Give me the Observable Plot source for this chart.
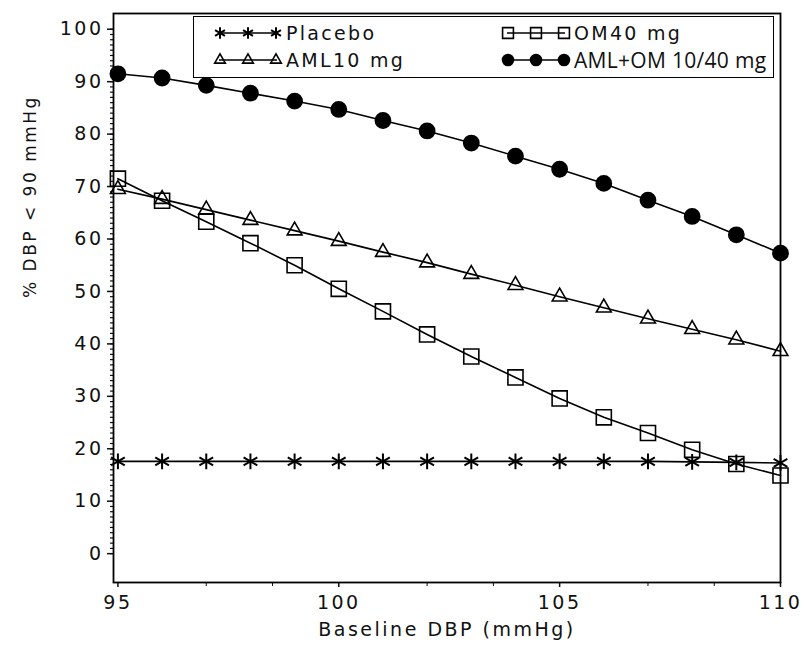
<!DOCTYPE html>
<html><head><meta charset="utf-8">
<script src="https://cdn.jsdelivr.net/npm/d3@7"></script>
<script src="https://cdn.jsdelivr.net/npm/@observablehq/plot@0.6"></script>
<style>
body{margin:0;background:#fff;}
#wrap{position:relative;width:804px;height:647px;}
#legend{position:absolute;left:193px;top:16px;width:581px;height:62px;border:1.5px solid #000;box-sizing:border-box;background:#fff;font-family:"DejaVu Sans",sans-serif;font-size:19px;letter-spacing:2.3px;color:#111;}
.item{position:absolute;display:flex;align-items:center;height:26px;white-space:nowrap;}
.item svg{display:block;margin-right:2px;}
</style></head><body><div id="wrap"><div id="legend"></div></div>
<script>
// ---- data ----
const baseline = [95,96,97,98,99,100,101,102,103,104,105,106,107,108,109,110];
const placebo = [17.6,17.6,17.6,17.6,17.6,17.6,17.6,17.6,17.6,17.6,17.6,17.6,17.6,17.5,17.4,17.3];
const om40    = [71.5,67.3,63.3,59.2,55.0,50.5,46.2,41.8,37.6,33.6,29.6,26.0,23.0,19.8,17.1,14.9];
const aml10   = [69.5,67.6,65.6,63.6,61.6,59.6,57.5,55.5,53.3,51.2,49.0,46.9,44.8,42.8,40.8,38.6];
const amlom   = [91.5,90.7,89.3,87.8,86.3,84.7,82.6,80.6,78.3,75.8,73.3,70.6,67.4,64.3,60.8,57.3];
const seriesNames = ["Placebo","OM40 mg","AML10 mg","AML+OM 10/40 mg"];
const seriesSymbols = ["asterisk","square","triangle","circle"];
const yMajorTicks = [0,10,20,30,40,50,60,70,80,90,100];
const xMajorTicks = [95,100,105,110];
const xMinorTicks = [97,98.5,102,103.5,107,108.5];
const yLabel = "% DBP < 90 mmHg";
const xLabel = "Baseline DBP (mmHg)";

const seriesValues = [placebo, om40, aml10, amlom];
const rows = [];
seriesNames.forEach((name, i) => {
  baseline.forEach((b, j) => rows.push({series: name, x: b, y: seriesValues[i][j]}));
});
const radius = {"asterisk": 7.5, "square": 8.5, "triangle": 5.5, "circle": 7.6};

const dotMarks = seriesNames.map((name, i) => Plot.dot(rows.filter(d => d.series === name), {
  x: "x", y: "y", symbol: () => seriesSymbols[i], r: radius[seriesSymbols[i]],
  stroke: "#000", strokeWidth: seriesSymbols[i] === "asterisk" ? 2 : 1.6,
  fill: seriesSymbols[i] === "circle" ? "#000" : "none"
}));

const chart = Plot.plot({
  width: 804, height: 647,
  marginLeft: 113, marginRight: 24, marginTop: 13, marginBottom: 65,
  style: "font-family: 'DejaVu Sans', sans-serif; letter-spacing: 2.5px; color: #111; background: #fff;",
  x: {domain: [94.9, 110]},
  y: {domain: [-5.5, 103]},
  symbol: {type: "identity"},
  marks: [
    Plot.axisY({ticks: d3.range(0, 101, 1), tickSize: 3, tickFormat: () => "", label: null, strokeWidth: 1.2}),
    Plot.axisY({ticks: yMajorTicks, tickSize: 6, tickPadding: 4, fontSize: 19, label: null, strokeWidth: 1.5}),
    Plot.axisX({ticks: xMinorTicks, tickSize: 4, tickFormat: () => "", label: null}),
    Plot.axisX({ticks: xMajorTicks, tickSize: 5, tickPadding: 8, fontSize: 19, label: null, strokeWidth: 1.5}),
    Plot.frame({stroke: "#000", strokeWidth: 1.8}),
    Plot.line(rows, {x: "x", y: "y", z: "series", stroke: "#000", strokeWidth: 1.6}),
    ...dotMarks,
    Plot.text([yLabel], {frameAnchor: "left", dx: -83, rotate: -90, fontSize: 17, fill: "#111"}),
    Plot.text([xLabel], {frameAnchor: "bottom", dy: 53, fontSize: 19, fill: "#111"})
  ]
});
document.getElementById("wrap").prepend(chart);

// ---- legend (HTML overlay) ----
const legend = document.getElementById("legend");
const legendPos = [[18, 3], [306, 3], [18, 30], [306, 30]];
seriesNames.forEach((name, i) => {
  const sym = seriesSymbols[i];
  const item = document.createElement("div");
  item.className = "item";
  item.style.left = legendPos[i][0] + "px";
  item.style.top = legendPos[i][1] + "px";
  const w = 72, h = 24;
  const svg = d3.create("svg").attr("width", w).attr("height", h);
  svg.append("line").attr("x1", 7).attr("x2", w - 7).attr("y1", h / 2).attr("y2", h / 2)
    .attr("stroke", "#000").attr("stroke-width", 1.6);
  const typeMap = {asterisk: d3.symbolAsterisk, square: d3.symbolSquare, triangle: d3.symbolTriangle, circle: d3.symbolCircle};
  const r = radius[sym] * 0.72;
  const path = d3.symbol(typeMap[sym], Math.PI * r * r)();
  [8, w / 2, w - 8].forEach(cx => {
    svg.append("path").attr("d", path).attr("transform", `translate(${cx},${h / 2})`)
      .attr("stroke", "#000").attr("stroke-width", sym === "asterisk" ? 2 : 1.6)
      .attr("fill", sym === "circle" ? "#000" : "none");
  });
  item.appendChild(svg.node());
  const span = document.createElement("span");
  span.textContent = name;
  if (name === "AML+OM 10/40 mg") { span.style.fontFamily = "'Open Sans', sans-serif"; span.style.letterSpacing = "0.3px"; span.style.fontSize = "21px"; }
  item.appendChild(span);
  legend.appendChild(item);
});
</script>
</body></html>
